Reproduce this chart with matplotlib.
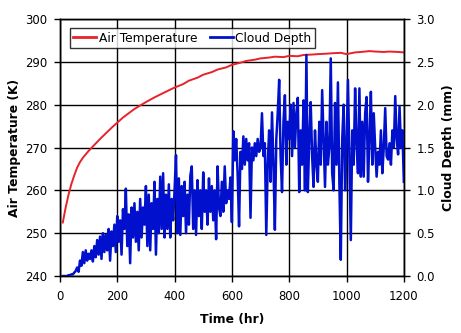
#!/usr/bin/env python3
# Air temperature and cloud depth against time, two y axes.
import matplotlib
matplotlib.use("Agg")
import matplotlib.pyplot as plt
import numpy as np

# ---- data -----------------------------------------------------------------
TEMP_T = [10, 20, 30, 40, 50, 60, 70, 80, 100, 120, 140, 160, 180, 200, 220,
          240, 260, 280, 300, 330, 360, 400, 430, 450, 480, 500, 530, 550, 580,
          600, 630, 650, 680, 700, 730, 750, 780, 800, 830, 850, 880, 900, 930,
          950, 980, 1000, 1030, 1050, 1080, 1100, 1130, 1150, 1180, 1200]
TEMP_K = [252.5, 256.0, 259.0, 261.5, 263.5, 265.3, 266.6, 267.6, 269.2, 270.6,
          272.0, 273.3, 274.6, 275.8, 277.0, 278.0, 279.0, 279.8, 280.6, 281.7,
          282.7, 284.0, 284.8, 285.6, 286.3, 287.0, 287.6, 288.2, 288.7, 289.3,
          289.8, 290.2, 290.5, 290.8, 291.0, 291.2, 291.1, 291.4, 291.3, 291.6,
          291.7, 291.8, 291.9, 292.0, 292.1, 291.8, 292.2, 292.3, 292.5, 292.4,
          292.3, 292.4, 292.3, 292.2]

# cloud depth sampled every 5 hr from 10 to 1200 hr
CLOUD_T = np.arange(10, 1201, 5)
CLOUD_MM = [
    0.0, 0.0, 0.0, 0.0, 0.01, 0.01, 0.02, 0.02, 0.04, 0.06,      # 10-55
    0.10, 0.05, 0.18, 0.12, 0.28, 0.15, 0.30, 0.18, 0.26, 0.20,  # 60-105
    0.30, 0.17, 0.35, 0.22, 0.42, 0.25, 0.46, 0.20, 0.50, 0.28,  # 110-155
    0.48, 0.30, 0.55, 0.18, 0.52, 0.35, 0.60, 0.28, 0.70, 0.40,  # 160-205
    0.65, 0.25, 0.78, 0.55, 1.02, 0.35, 0.72, 0.15, 0.80, 0.45,  # 210-255
    0.85, 0.40, 0.75, 0.30, 0.90, 0.45, 0.80, 0.60, 1.05, 0.35,  # 260-305
    0.95, 0.30, 0.85, 0.55, 1.10, 0.25, 0.90, 0.50, 1.16, 0.55,  # 310-355
    1.20, 0.45, 0.95, 0.55, 1.07, 0.45, 0.90, 0.65, 1.00, 1.41,  # 360-405
    0.50, 1.14, 0.48, 1.05, 0.70, 1.10, 0.50, 0.95, 0.60, 1.17,  # 410-455
    1.28, 0.55, 1.00, 0.48, 1.12, 0.70, 1.00, 0.55, 1.21, 0.75,  # 460-505
    1.00, 0.60, 1.14, 0.75, 1.05, 0.65, 1.00, 0.43, 1.28, 0.80,  # 510-555
    0.70, 1.10, 0.75, 1.28, 0.85, 1.00, 0.90, 1.15, 0.63, 1.69,  # 560-605
    1.35, 1.60, 1.20, 0.58, 1.45, 1.25, 1.63, 1.30, 1.60, 1.35,  # 610-655
    1.55, 0.68, 1.50, 1.35, 1.55, 1.40, 1.60, 1.45, 1.50, 1.90,  # 660-705
    1.40, 1.55, 0.48, 1.30, 1.70, 1.10, 1.91, 1.30, 0.54, 1.60,  # 710-755
    1.90, 2.29, 1.40, 0.98, 1.80, 2.11, 1.30, 1.80, 1.60, 2.00,  # 760-805
    1.40, 2.02, 1.50, 1.90, 2.08, 0.98, 1.70, 1.30, 2.05, 1.00,  # 810-855
    2.58, 0.98, 1.60, 2.03, 1.40, 1.04, 1.70, 1.30, 1.10, 1.80,  # 860-905
    1.30, 2.17, 1.60, 1.04, 1.80, 1.30, 1.50, 2.54, 1.20, 1.00,  # 910-955
    2.02, 1.30, 2.26, 1.10, 0.19, 1.60, 2.00, 1.00, 1.50, 2.29,  # 960-1005
    1.40, 0.42, 1.70, 1.30, 2.19, 1.55, 1.20, 2.19, 1.16, 1.80,  # 1010-1055
    1.16, 1.90, 2.09, 1.10, 1.60, 2.15, 1.30, 1.90, 1.50, 1.16,  # 1060-1105
    1.45, 1.30, 1.70, 1.20, 1.50, 1.96, 1.40, 1.36, 1.55, 1.30,  # 1110-1155
    1.70, 1.50, 2.10, 1.60, 1.42, 1.98, 1.50, 1.70, 1.10,        # 1160-1200
]
assert len(CLOUD_MM) == len(CLOUD_T)

RED, BLUE = "#e8222a", "#0010cc"
FS = 8.4

fig = plt.figure(figsize=(4.61, 3.33), dpi=100)
ax = fig.add_axes([0.130, 0.171, 0.746, 0.772])
ax2 = ax.twinx()

lt, = ax.plot(TEMP_T, TEMP_K, color=RED, lw=1.4, label="Air Temperature")
lc, = ax2.plot(CLOUD_T, CLOUD_MM, color=BLUE, lw=1.8, label="Cloud Depth")

ax.set_xlim(0, 1200); ax.set_ylim(240, 300)
ax2.set_ylim(0, 3.0)
ax.set_xticks(np.arange(0, 1201, 200))
ax.set_yticks(np.arange(240, 301, 10))
ax2.set_yticks(np.arange(0, 3.01, 0.5))
ax2.set_yticklabels([f"{v:.1f}" for v in np.arange(0, 3.01, 0.5)])
ax.grid(color="black", lw=1.0)
ax.set_axisbelow(True)

for a in (ax, ax2):
    a.tick_params(direction="out", length=4, width=1, labelsize=FS, color="black", pad=5)
    for s in a.spines.values():
        s.set_linewidth(1.0); s.set_color("black")
ax.tick_params(axis="x", pad=6)

ax.set_xlabel("Time (hr)", fontsize=FS + 0.5, fontweight="bold", labelpad=7)
ax.set_ylabel("Air Temperature (K)", fontsize=FS + 0.5, fontweight="bold", labelpad=3)
ax2.set_ylabel("Cloud Depth (mm)", fontsize=FS + 0.5, fontweight="bold", labelpad=5)

leg = ax2.legend(handles=[lt, lc], loc="upper left", bbox_to_anchor=(0.028, 0.965),
                 ncol=2, fontsize=FS + 0.4, frameon=True, fancybox=False,
                 handlelength=1.9, handletextpad=0.2, columnspacing=1.0,
                 borderpad=0.3, borderaxespad=0.0)
leg.get_frame().set_edgecolor("black"); leg.get_frame().set_linewidth(1.0)
for h in leg.get_lines():
    h.set_linewidth(2.0)

fig.savefig("out.png", dpi=100)
